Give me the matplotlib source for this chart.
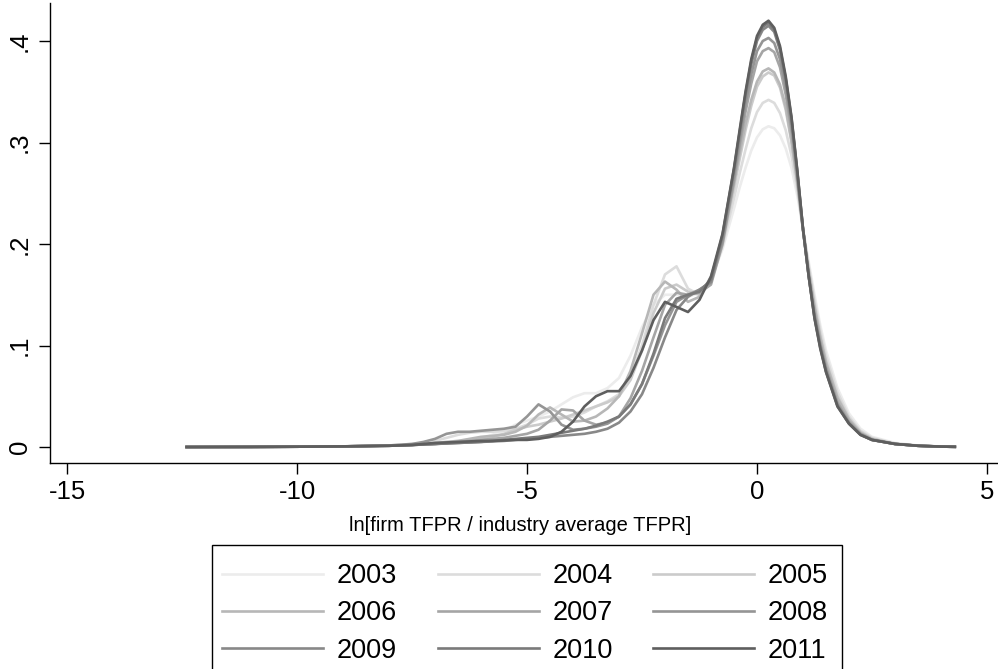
import matplotlib
matplotlib.use("Agg")
import matplotlib.pyplot as plt
from matplotlib.patches import Rectangle

plt.rcParams['font.family'] = ['Liberation Sans', 'DejaVu Sans']
plt.rcParams['axes.unicode_minus'] = False

x_grid = [-12.4, -11, -10, -9, -8, -7.5, -7.25, -7, -6.75, -6.5, -6.25, -6, -5.75, -5.5,
          -5.25, -5, -4.75, -4.5, -4.25, -4, -3.75, -3.5, -3.25,
          -3, -2.75, -2.5, -2.25, -2, -1.75, -1.5, -1.25,
          -1, -0.75, -0.5, -0.375, -0.25, -0.125, 0, 0.125, 0.25, 0.375, 0.5, 0.625, 0.75,
          0.875, 1, 1.125, 1.25, 1.375, 1.5, 1.75, 2, 2.25, 2.5, 3, 3.5, 4, 4.3]

years = ['2003', '2004', '2005', '2006', '2007', '2008', '2009', '2010', '2011']

# left tail (-12.4 .. -3.25)
tail_2003 = [0, 0.0001, 0.0003, 0.0006, 0.0015, 0.0025, 0.003, 0.004, 0.005, 0.006, 0.007, 0.009, 0.012, 0.016, 0.022, 0.026, 0.030, 0.035, 0.042, 0.049, 0.053, 0.053, 0.058]
tail_2004 = [0, 0.0001, 0.0003, 0.0006, 0.0015, 0.003, 0.004, 0.006, 0.009, 0.012, 0.014, 0.015, 0.015, 0.016, 0.018, 0.022, 0.028, 0.030, 0.029, 0.030, 0.034, 0.040, 0.045]
tail_2005 = [0, 0.0001, 0.0003, 0.0006, 0.0015, 0.002, 0.0025, 0.003, 0.004, 0.005, 0.006, 0.008, 0.010, 0.013, 0.017, 0.020, 0.022, 0.025, 0.028, 0.032, 0.036, 0.040, 0.044]
tail_2006 = [0, 0.0001, 0.0003, 0.0006, 0.0015, 0.002, 0.003, 0.004, 0.005, 0.006, 0.008, 0.010, 0.011, 0.012, 0.015, 0.021, 0.032, 0.039, 0.032, 0.025, 0.026, 0.030, 0.038]
tail_2007 = [0, 0.0001, 0.0003, 0.0006, 0.0012, 0.002, 0.0025, 0.003, 0.004, 0.005, 0.006, 0.007, 0.008, 0.009, 0.011, 0.013, 0.017, 0.026, 0.037, 0.036, 0.026, 0.022, 0.024]
tail_2008 = [0, 0.0001, 0.0003, 0.0006, 0.0015, 0.003, 0.005, 0.008, 0.013, 0.015, 0.015, 0.016, 0.017, 0.018, 0.020, 0.030, 0.042, 0.035, 0.022, 0.017, 0.018, 0.020, 0.023]
tail_2009 = [0, 0.0001, 0.0003, 0.0006, 0.0012, 0.002, 0.0025, 0.003, 0.0035, 0.004, 0.0045, 0.005, 0.0055, 0.006, 0.007, 0.008, 0.009, 0.010, 0.011, 0.012, 0.013, 0.015, 0.018]
tail_2010 = [0, 0.0001, 0.0003, 0.0006, 0.0012, 0.002, 0.0025, 0.003, 0.0035, 0.004, 0.0045, 0.005, 0.006, 0.007, 0.008, 0.009, 0.010, 0.012, 0.014, 0.016, 0.018, 0.021, 0.025]
tail_2011 = [0, 0.0001, 0.0003, 0.0006, 0.0012, 0.002, 0.003, 0.004, 0.0045, 0.005, 0.0055, 0.006, 0.006, 0.0065, 0.007, 0.007, 0.008, 0.010, 0.015, 0.025, 0.040, 0.050, 0.055]

# shoulder (-3 .. -1.25)
shoulder_2003 = [0.068, 0.090, 0.118, 0.140, 0.150, 0.150, 0.148, 0.152]
shoulder_2004 = [0.052, 0.070, 0.100, 0.140, 0.170, 0.178, 0.156, 0.150]
shoulder_2005 = [0.050, 0.066, 0.095, 0.132, 0.156, 0.160, 0.153, 0.150]
shoulder_2006 = [0.050, 0.075, 0.112, 0.150, 0.163, 0.155, 0.143, 0.148]
shoulder_2007 = [0.030, 0.048, 0.075, 0.108, 0.140, 0.152, 0.150, 0.152]
shoulder_2008 = [0.030, 0.042, 0.062, 0.090, 0.120, 0.143, 0.150, 0.155]
shoulder_2009 = [0.024, 0.035, 0.052, 0.078, 0.108, 0.135, 0.148, 0.155]
shoulder_2010 = [0.030, 0.042, 0.062, 0.092, 0.127, 0.146, 0.150, 0.153]
shoulder_2011 = [0.055, 0.070, 0.095, 0.125, 0.143, 0.138, 0.133, 0.145]

# main body (-1 .. 4.3)
body_2003 = [0.165, 0.195, 0.235, 0.256, 0.275, 0.292, 0.305, 0.313, 0.316, 0.314, 0.307, 0.294, 0.275, 0.248, 0.215, 0.182, 0.150, 0.120, 0.095, 0.058, 0.033, 0.018, 0.010, 0.004, 0.0015, 0.0005, 0.0002]
body_2004 = [0.165, 0.198, 0.245, 0.270, 0.293, 0.314, 0.330, 0.339, 0.342, 0.339, 0.329, 0.312, 0.287, 0.254, 0.215, 0.178, 0.145, 0.115, 0.090, 0.054, 0.030, 0.016, 0.009, 0.0035, 0.0013, 0.0004, 0.0002]
body_2005 = [0.163, 0.200, 0.255, 0.284, 0.312, 0.336, 0.355, 0.365, 0.369, 0.366, 0.354, 0.332, 0.300, 0.260, 0.215, 0.175, 0.140, 0.110, 0.085, 0.050, 0.028, 0.015, 0.008, 0.003, 0.0012, 0.0004, 0.0002]
body_2006 = [0.168, 0.205, 0.260, 0.290, 0.318, 0.342, 0.360, 0.370, 0.373, 0.369, 0.357, 0.335, 0.302, 0.261, 0.214, 0.173, 0.138, 0.108, 0.083, 0.048, 0.027, 0.014, 0.008, 0.003, 0.0012, 0.0004, 0.0002]
body_2007 = [0.160, 0.200, 0.262, 0.297, 0.330, 0.358, 0.380, 0.390, 0.393, 0.389, 0.374, 0.347, 0.311, 0.265, 0.214, 0.170, 0.133, 0.103, 0.079, 0.044, 0.025, 0.013, 0.007, 0.003, 0.0012, 0.0004, 0.0002]
body_2008 = [0.162, 0.203, 0.267, 0.303, 0.338, 0.367, 0.390, 0.400, 0.403, 0.398, 0.382, 0.354, 0.317, 0.268, 0.214, 0.168, 0.130, 0.101, 0.077, 0.042, 0.024, 0.013, 0.007, 0.003, 0.0012, 0.0004, 0.0002]
body_2009 = [0.163, 0.207, 0.272, 0.309, 0.346, 0.377, 0.400, 0.411, 0.415, 0.409, 0.391, 0.361, 0.322, 0.271, 0.215, 0.168, 0.128, 0.099, 0.075, 0.041, 0.023, 0.012, 0.007, 0.003, 0.0012, 0.0004, 0.0002]
body_2010 = [0.165, 0.209, 0.274, 0.311, 0.348, 0.380, 0.403, 0.414, 0.418, 0.411, 0.393, 0.363, 0.324, 0.272, 0.215, 0.168, 0.127, 0.098, 0.074, 0.040, 0.023, 0.012, 0.007, 0.003, 0.0012, 0.0004, 0.0002]
body_2011 = [0.168, 0.210, 0.275, 0.313, 0.350, 0.382, 0.405, 0.416, 0.420, 0.413, 0.395, 0.365, 0.325, 0.273, 0.215, 0.168, 0.127, 0.097, 0.074, 0.040, 0.023, 0.012, 0.007, 0.003, 0.0012, 0.0004, 0.0002]

tails = [tail_2003, tail_2004, tail_2005, tail_2006, tail_2007, tail_2008, tail_2009, tail_2010, tail_2011]
shoulders = [shoulder_2003, shoulder_2004, shoulder_2005, shoulder_2006, shoulder_2007,
             shoulder_2008, shoulder_2009, shoulder_2010, shoulder_2011]
bodies = [body_2003, body_2004, body_2005, body_2006, body_2007, body_2008, body_2009, body_2010, body_2011]

colors = ['#ececec', '#dcdcdc', '#cbcbcb', '#b7b7b7', '#a5a5a5', '#959595', '#888888', '#7a7a7a', '#5e5e5e']

x_ticks = [-15, -10, -5, 0, 5]
y_ticks = [0, 0.1, 0.2, 0.3, 0.4]
y_ticklabels = ['0', '.1', '.2', '.3', '.4']

W, H = 998, 669
fig = plt.figure(figsize=(W / 100, H / 100), dpi=100)
ax = fig.add_axes([50 / W, 1 - 463 / H, 1 - 50 / W, (463 - 3) / H])

handles = []
for yr, t, s, b, c in zip(years, tails, shoulders, bodies, colors):
    ln, = ax.plot(x_grid, t + s + b, color=c, lw=1.9, label=yr, solid_joinstyle='round')
    handles.append(ln)

ax.set_xlim(-15 - 17 / 46, 5 + 11 / 46)
ax.set_ylim(-16 / 1015, 444 / 1015)
ax.set_xticks(x_ticks)
ax.set_xticklabels([str(v) for v in x_ticks])
ax.set_yticks(y_ticks)
ax.set_yticklabels(y_ticklabels, rotation=90, va='center')
ax.tick_params(axis='both', labelsize=18.5, length=8, width=1, color='black', direction='out')
ax.tick_params(axis='y', pad=5)
ax.tick_params(axis='x', pad=4)
for side in ['top', 'right']:
    ax.spines[side].set_visible(False)
for side in ['left', 'bottom']:
    ax.spines[side].set_linewidth(1)
    ax.spines[side].set_color('black')
ax.set_xlabel('ln[firm TFPR / industry average TFPR]', fontsize=14.5, labelpad=8)
ax.xaxis.set_label_coords((520 - 50) / (W - 50), -0.115)

# legend in row-major order (3 columns)
ncol = 3
order = [r * ncol + c for c in range(ncol) for r in range(len(years) // ncol)]
leg = fig.legend([handles[i] for i in order], [years[i] for i in order],
                 loc='upper left', bbox_to_anchor=(222 / W, 1 - 563 / H), ncol=ncol,
                 fontsize=19.5, handlelength=3.73, handletextpad=0.5, columnspacing=1.5,
                 labelspacing=0.42, borderpad=0, borderaxespad=0, frameon=False)

fig.patches.append(Rectangle((212 / W, -10 / H), (842 - 212) / W, (669 - 545 + 10) / H,
                             transform=fig.transFigure, fill=False, edgecolor='black',
                             linewidth=1, clip_on=False))

fig.savefig('out.png', dpi=100)
